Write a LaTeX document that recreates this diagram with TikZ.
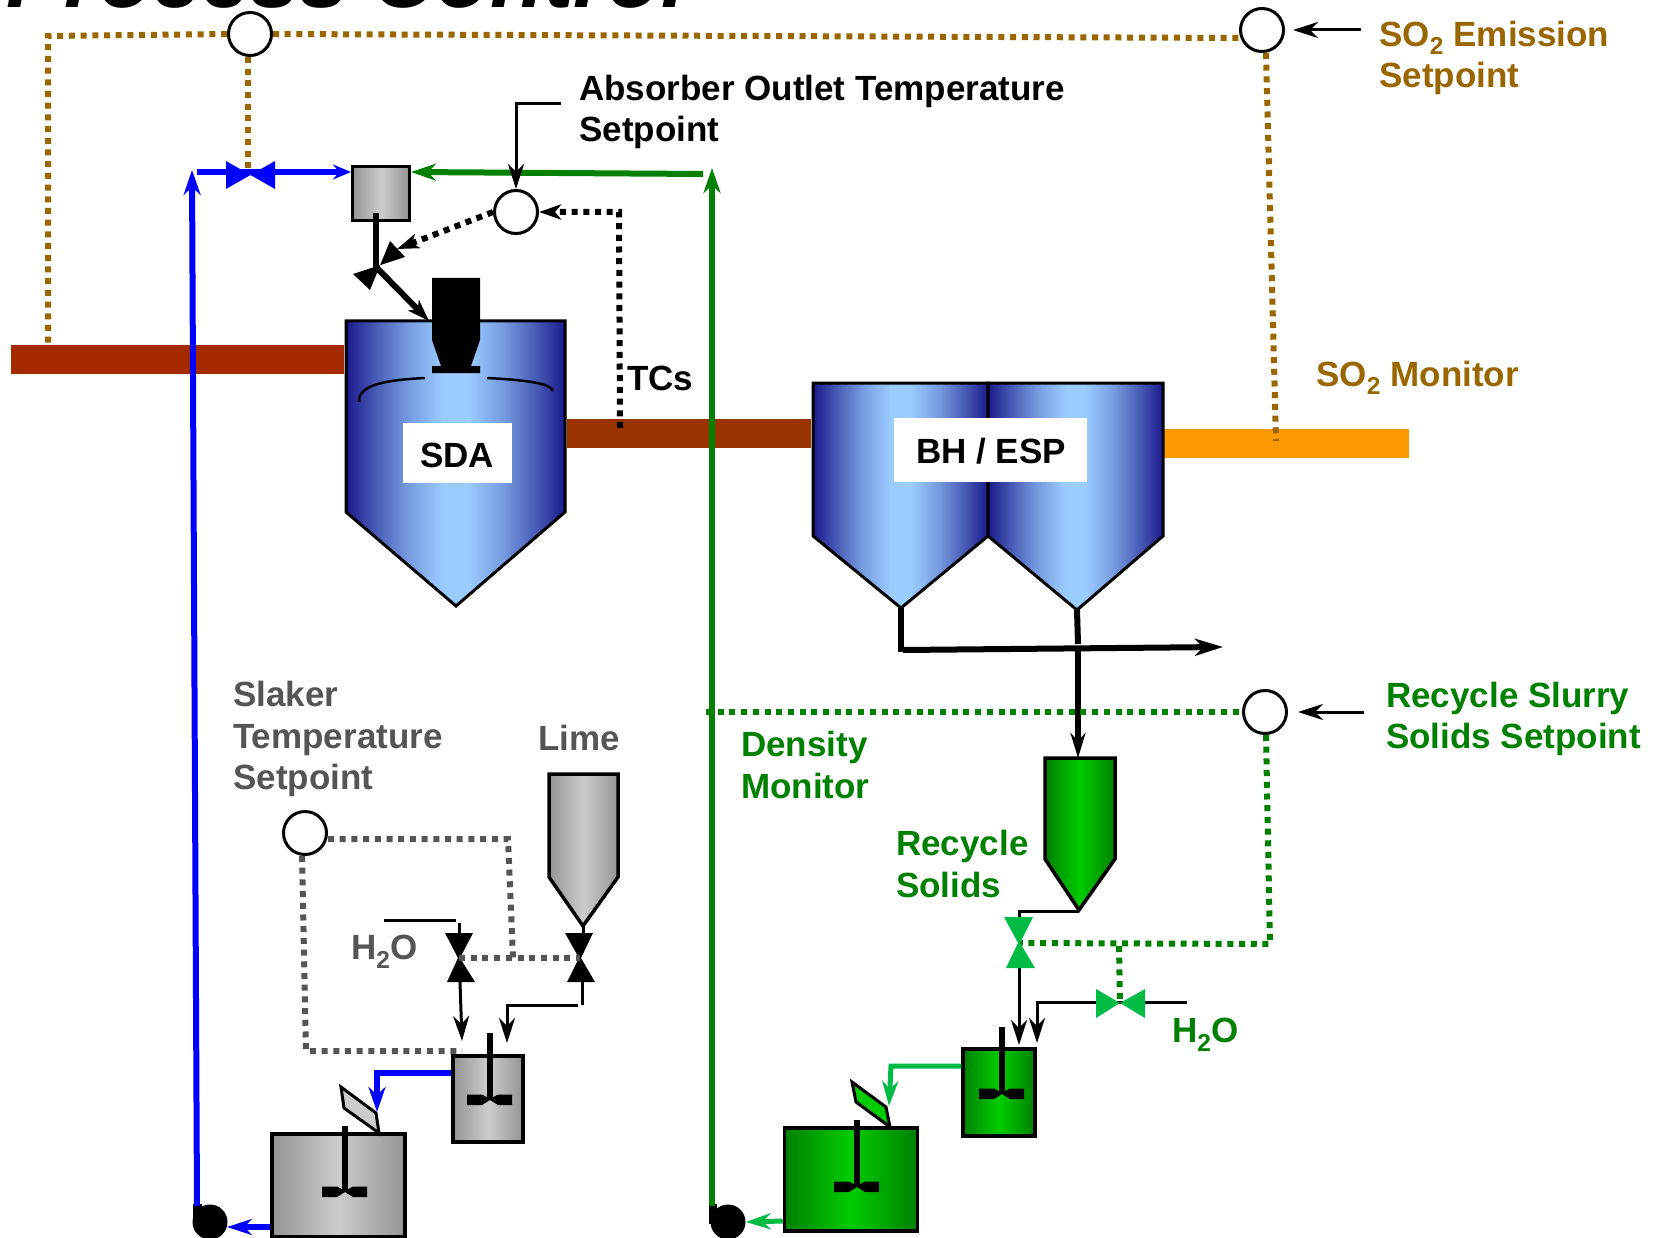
\documentclass[tikz,border=0pt]{standalone}
\usepackage{fontspec}
\setmainfont{Liberation Sans}
\usetikzlibrary{arrows.meta, calc}
\definecolor{navyblue}{HTML}{1A1A8C}
\definecolor{skyblue}{HTML}{99CCFF}
\definecolor{bronze}{HTML}{996600}
\definecolor{slategray}{HTML}{555555}
\definecolor{forestgreen}{HTML}{008000}
\definecolor{leafgreen}{HTML}{00BB44}
\definecolor{fluegas}{HTML}{A52A00}
\definecolor{fluegastwo}{HTML}{993300}
\definecolor{cleangas}{HTML}{FF9900}
\pgfdeclarehorizontalshading{vesselblue}{100bp}{color(0bp)=(navyblue); color(25bp)=(navyblue); color(32bp)=(navyblue!62!skyblue); color(39bp)=(navyblue!28!skyblue); color(47bp)=(skyblue); color(53bp)=(skyblue); color(61bp)=(navyblue!28!skyblue); color(68bp)=(navyblue!62!skyblue); color(75bp)=(navyblue); color(100bp)=(navyblue)}

\begin{document}
\begin{tikzpicture}[x=1pt, y=-1pt, every node/.style={inner sep=0pt}]
    \tikzstyle{setpt} = [circle, draw=black, line width=3pt, fill=white, minimum size=43pt]
    \tikzstyle{sig} = [line width=6pt, dash pattern=on 6pt off 5.7pt]
    \tikzstyle{pipe} = [line width=6pt, -{Stealth[length=25pt,width=17pt,inset=8pt]}]
    \tikzstyle{thinpipe} = [line width=3pt, -{Stealth[length=25pt,width=16pt,inset=8pt]}]
    \tikzstyle{thickpipe} = [line width=6pt, -{Stealth[length=22pt,width=15pt,inset=6pt]}]
    \tikzstyle{duct} = [rectangle, minimum height=29pt]
    \tikzstyle{bluevessel} = [draw=black, line width=3pt, shading=vesselblue]
    \tikzstyle{grayvessel} = [draw=black, line width=3.5pt, left color=black!42, right color=black!42, middle color=black!20]
    \tikzstyle{greenvessel} = [draw=black, line width=3.5pt, left color=forestgreen, right color=forestgreen, middle color=green!80!black]
    \tikzstyle{lbl} = [anchor=west, align=left, font=\fontsize{35}{41.5}\selectfont\bfseries]

    \useasboundingbox (0,0) rectangle (1667,1238);

    % ducts
    \node[duct, fill=fluegas, minimum width=333pt] (inletDuct) at (177.5,359.5) {};
    \node[duct, fill=fluegastwo, minimum width=244pt] (midDuct) at (689,433.5) {};
    \node[duct, fill=cleangas, minimum width=245pt] (stackDuct) at (1286.5,443.5) {};

    % vessels
    \draw[bluevessel] (346,321) -- (565,321) -- (565,512) -- (456,606) -- (346,512) -- cycle;
    \draw[bluevessel] (813,383) -- (988,383) -- (988,536) -- (901,608) -- (813,536) -- cycle;
    \draw[bluevessel] (988,383) -- (1163,383) -- (1163,536) -- (1077,610) -- (988,536) -- cycle;
    \draw[grayvessel] (549,774) -- (618,774) -- (618,877) -- (583,926) -- (549,877) -- cycle;
    \draw[greenvessel] (1045,758) -- (1115,758) -- (1115,859) -- (1079,910) -- (1045,859) -- cycle;

    % spray nozzle
    \fill (432,278) -- (480,278) -- (480,340) -- (471,366) -- (480,366) -- (480,373) -- (432,373) -- (432,366) -- (441,366) -- (432,340) -- cycle;
    \draw[line width=2.5pt] (425,378) .. controls (385,380) and (358,385) .. (359,402);
    \draw[line width=2.5pt] (487,378) .. controls (525,380) and (550,383) .. (553,391);

    \node[fill=white, minimum width=109pt, minimum height=60pt] (sdaBox) at (457,453) {};
    \node[fill=white, minimum width=193pt, minimum height=64pt] (bhBox) at (990.5,450) {};
    \node[font=\fontsize{35}{40}\selectfont\bfseries] (sdaLabel) at (457,455) {SDA};
    \node[font=\fontsize{35}{40}\selectfont\bfseries] (bhLabel) at (991,451) {BH / ESP};

    % tanks
    \node[rectangle, grayvessel, minimum width=133pt, minimum height=103pt] (feedTank) at (338.5,1185.5) {};
    \node[rectangle, grayvessel, minimum width=70pt, minimum height=86pt] (slaker) at (488,1099) {};
    \node[rectangle, greenvessel, minimum width=133pt, minimum height=103pt] (slurryTank) at (851,1179.5) {};
    \node[rectangle, greenvessel, minimum width=72pt, minimum height=87pt] (mixTank) at (999,1092.5) {};
    \node[rectangle, grayvessel, minimum width=57pt, minimum height=54pt] (headBox) at (381,193.5) {};
    \draw[line width=3pt, fill=black!20] (341,1087) -- (344,1108) -- (379,1133) -- (376,1113) -- cycle;
    \draw[line width=3pt, fill=green!80!black] (852,1082) -- (856,1102) -- (890,1127) -- (886,1107) -- cycle;

    \foreach \x/\y/\t in {490/1100/1033, 345/1192/1126, 1002/1094/1027, 857/1187/1120}{
        \draw[line width=6pt] (\x,\t) -- (\x,\y);
        \fill (\x-23,\y-5.5) -- (\x-8,\y-5.5) -- (\x,\y-1) -- (\x+8,\y-5.5) -- (\x+22,\y-5.5) -- (\x+22,\y+5) -- (\x+8,\y+5) -- (\x,\y) -- (\x-8,\y+5) -- (\x-23,\y+5) -- cycle;
    }

    % controllers
    \node[setpt] (blueSet) at (250,34) {};
    \node[setpt] (soSet) at (1262,30) {};
    \node[setpt] (absSet) at (516,212) {};
    \node[setpt] (slurrySet) at (1265,712) {};
    \node[setpt] (slakerSet) at (305,833) {};

    % pumps
    \node[circle, fill=black, minimum size=35pt] (limePump) at (210,1222) {};
    \node[circle, fill=black, minimum size=35pt] (slurryPump) at (728,1222) {};
    \fill (193,1204) rectangle (202,1224);
    \fill (709,1204) rectangle (717,1224);

    \coordinate (brownCorner) at (48,36);
    \coordinate (brownEnd) at (48,345);
    \coordinate (gateIn) at (248,168);
    \coordinate (soMonitor) at (1276,441);
    \coordinate (limeTop) at (192,170);
    \coordinate (limeBottom) at (197,1206);
    \coordinate (limeFeed) at (197,172);
    \coordinate (headLeft) at (351,172);
    \coordinate (waterEnd) at (703,174);
    \coordinate (headRight) at (411,172);
    \coordinate (slurryTop) at (712,168);
    \coordinate (slurryBottom) at (712,1206);
    \coordinate (absFree) at (561,104);
    \coordinate (soFree) at (1361,30);
    \coordinate (slurryFree) at (1364,712);
    \coordinate (tcEnd) at (620,428);
    \coordinate (tcTurn) at (619,212);
    \coordinate (sprayValve) at (376,267);
    \coordinate (sprayTop) at (376,213);
    \coordinate (sprayIn) at (429,321);
    \coordinate (sprayCtl) at (397,249);

    % control signals
    \draw[sig, bronze] (blueSet.west) -- (brownCorner) -- (brownEnd);
    \draw[sig, bronze] (blueSet.south) ++(-2,0) -- (gateIn);
    \draw[sig, bronze] (blueSet.east) -- (1242,38);
    \draw[sig, bronze] (soSet.south) ++(4,0) -- (soMonitor);

    % feed lines
    \draw[pipe, blue] (limeBottom) -- (limeTop);
    \draw[line width=6pt, blue, -{Stealth[length=18pt,width=15pt,inset=6pt]}] (limeFeed) -- (headLeft);
    \fill[blue] (226,161) -- (275,189) -- (275,161) -- (226,189) -- cycle;
    \draw[line width=6pt, forestgreen, -{Stealth[length=25pt,width=17pt,inset=8pt]}] (waterEnd) -- (headRight);
    \draw[pipe, forestgreen] (slurryBottom) -- (slurryTop);

    % absorber temperature loop
    \draw[thinpipe] (absFree) -| (absSet.north);
    \draw[sig, black, -{Stealth[length=22pt,width=15pt,inset=6pt]}] (tcEnd) -- (tcTurn) -- (absSet.east);
    \draw[sig, black, -{Stealth[length=22pt,width=15pt,inset=6pt]}] (absSet.west) -- (sprayCtl);
    \draw[line width=6pt] (sprayTop) -- (sprayValve);
    \draw[thickpipe] (sprayValve) -- (sprayIn);
    \fill (390,241) -- (405,257) -- (353,274) -- (370,290) -- cycle;

    % ash and recycle
    \coordinate (ashLeft) at (901,608);
    \coordinate (ashRight) at (1077,610);
    \coordinate (ashCorner) at (903,650);
    \coordinate (ashEnd) at (1223,647);
    \coordinate (recycleTop) at (1078,651);
    \coordinate (recycleIn) at (1078,758);
    \draw[line width=6pt] (ashLeft) -- (901,652);
    \draw[line width=6pt] (ashRight) -- (1078,644);
    \draw[line width=6pt, -{Stealth[length=28pt,width=17pt,inset=8pt]}] (ashCorner) -- (ashEnd);
    \draw[line width=6pt, -{Stealth[length=25pt,width=15pt,inset=8pt]}] (recycleTop) -- (recycleIn);

    \coordinate (densityEnd) at (706,712);
    \coordinate (gateRecycle) at (1019,943);
    \coordinate (signalCorner) at (1270,944);
    \coordinate (signalTee) at (1119,946);
    \coordinate (gateWater) at (1120,1003);
    \draw[sig, forestgreen] (densityEnd) -- (slurrySet.west);
    \draw[sig, forestgreen] (slurrySet.south) ++(1,0) -- (signalCorner) -- (gateRecycle);

    \coordinate (hopperTip) at (1079,911);
    \coordinate (recycleCorner) at (1019,911);
    \coordinate (mixIn) at (1019,1045);
    \coordinate (waterFree) at (1187,1002);
    \coordinate (waterCorner) at (1037,1002);
    \coordinate (mixWater) at (1037,1043);
    \draw[line width=3pt] (hopperTip) -- (recycleCorner) -- (1019,920);
    \draw[thinpipe] (1019,966) -- (mixIn);
    \draw[thinpipe] (waterFree) -- (waterCorner) -- (mixWater);
    \fill[leafgreen] (1004,917) -- (1033,917) -- (1020,943) -- (1035,968) -- (1006,968) -- (1018,943) -- cycle;
    \fill[leafgreen] (1096,989) -- (1120,1003) -- (1145,989) -- (1145,1018) -- (1120,1003) -- (1096,1018) -- cycle;
    \draw[sig, forestgreen] (signalTee) -- (gateWater);
    \draw[line width=5pt, leafgreen, -{Stealth[length=25pt,width=16pt,inset=8pt]}] (mixTank.west |- 0,1066) -- (891,1066) -- (889,1106);
    \draw[line width=5pt, leafgreen, -{Stealth[length=25pt,width=16pt,inset=8pt]}] (slurryTank.west |- 0,1221) -- (slurryPump.east);

    % lime slaking
    \coordinate (waterGate) at (459,958);
    \coordinate (limeGate) at (580,958);
    \coordinate (grayTop) at (508,839);
    \coordinate (grayJoin) at (513,958);
    \coordinate (grayLeft) at (306,1051);
    \coordinate (grayEnd) at (462,1051);
    \draw[sig, slategray] (slakerSet.east |- 0,839) -- (grayTop) -- (grayJoin);
    \draw[sig, slategray] (slakerSet.south) ++(-3,0) -- (grayLeft) -- (grayEnd);

    \coordinate (waterFreeTwo) at (384,920);
    \coordinate (waterCornerTwo) at (456,920);
    \coordinate (limeOut) at (582,982);
    \coordinate (limeTurn) at (507,1005);
    \coordinate (slakerIn) at (507,1043);
    \draw[line width=3pt] (waterFreeTwo) -- (waterCornerTwo);
    \draw[line width=3pt] (459,923) -- (459,935);
    \draw[line width=3pt] (583,926) -- (583,935);
    \draw[thinpipe] (460,982) -- (462,1041);
    \draw[line width=3pt] (limeOut) -- (582,1005);
    \draw[thinpipe] (578,1005) -- (limeTurn) -- (slakerIn);
    \fill (445,933) -- (473,933) -- (460,958) -- (475,982) -- (447,982) -- (458,958) -- cycle;
    \fill (565,933) -- (593,933) -- (581,958) -- (595,982) -- (567,982) -- (579,958) -- cycle;
    \draw[sig, slategray] (waterGate) -- (limeGate);
    \draw[pipe, blue] (slaker.west |- 0,1073) -- (377,1073) -- (377,1112);
    \draw[line width=6pt, blue, -{Stealth[length=25pt,width=16pt,inset=8pt]}] (feedTank.west |- 0,1227) -- (227,1227);

    \draw[thinpipe, shorten >=8pt] (soFree) -- (soSet);
    \draw[thinpipe, shorten >=10pt] (slurryFree) -- (slurrySet);

    % labels
    \node[anchor=base west, font=\fontsize{88}{94}\selectfont\bfseries\itshape] (title) at (6,8) {Process Control};
    \node[lbl] (absLabel) at (579,112) {Absorber Outlet Temperature\\Setpoint};
    \node[lbl] (tcLabel) at (627,378) {TCs};
    \node[lbl, text=bronze] (soLabel) at (1379,58) {SO\textsubscript{2} Emission\\Setpoint};
    \node[lbl, text=bronze] (monitorLabel) at (1316,378) {SO\textsubscript{2} Monitor};
    \node[lbl, text=forestgreen] (slurryLabel) at (1386,719) {Recycle Slurry\\Solids Setpoint};
    \node[lbl, text=forestgreen] (densityLabel) at (741,765) {Density\\Monitor};
    \node[lbl, text=forestgreen] (solidsLabel) at (896,864) {Recycle\\Solids};
    \node[lbl, text=forestgreen] (waterLabel) at (1172,1035) {H\textsubscript{2}O};
    \node[lbl, text=slategray] (slakerLabel) at (233,739) {Slaker\\Temperature\\Setpoint};
    \node[lbl, text=slategray] (limeLabel) at (538,738) {Lime};
    \node[lbl, text=slategray] (grayWater) at (351,952) {H\textsubscript{2}O};
\end{tikzpicture}
\end{document}
